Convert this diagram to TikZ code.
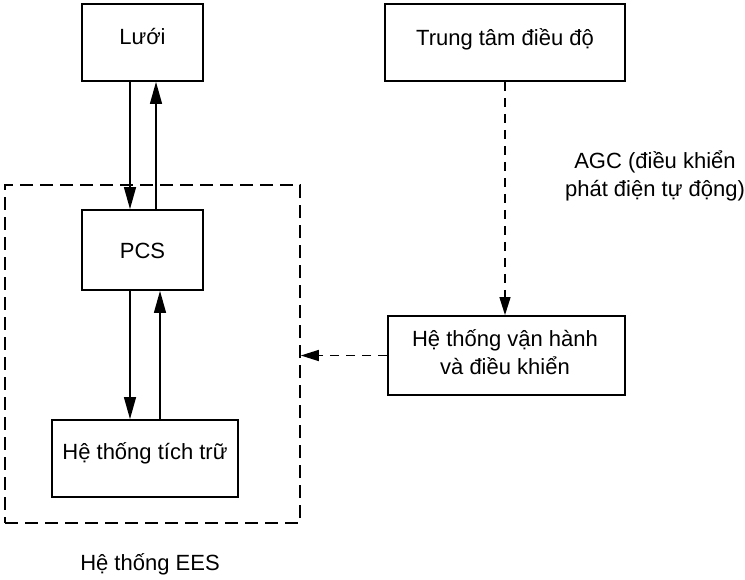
\documentclass[tikz,border=0pt]{standalone}
\usepackage{fontspec}
\setmainfont{Liberation Sans}
\usetikzlibrary{arrows.meta}
\tikzset{
  blockbox/.style={draw, line width=1.8pt, rectangle, inner sep=0pt},
  plaintext/.style={align=center, inner sep=0pt, font=\fontsize{22}{28}\selectfont},
  flow/.style={line width=1.3pt, -{Triangle[length=22pt,width=12pt]}},
  ctrl/.style={line width=1.3pt, dash pattern=on 9pt off 7pt, -{Triangle[length=18pt,width=11pt]}},
  group/.style={draw, line width=1.6pt, dash pattern=on 13pt off 7pt, rectangle, inner sep=0pt}
}
\begin{document}
\begin{tikzpicture}[x=1pt,y=-1pt]
  \useasboundingbox (0,0) rectangle (745,579);

  % EES system group
  \node[group, minimum width=295pt, minimum height=338pt] (ees) at (152.5,354) {};
  \node[plaintext] (eeslabel) at (150,564) {Hệ thống EES};

  % blocks
  \node[blockbox, minimum width=121pt, minimum height=77pt] (grid) at (142.5,42.5) {};
  \node[blockbox, minimum width=121pt, minimum height=80pt] (pcs) at (142.5,250) {};
  \node[blockbox, minimum width=186pt, minimum height=77pt] (store) at (145,458.5) {};
  \node[blockbox, minimum width=240pt, minimum height=77pt] (ctr) at (505,42.5) {};
  \node[blockbox, minimum width=237pt, minimum height=79pt] (ops) at (506.5,355.5) {};

  % block captions
  \node[plaintext] (gridtext) at (142.5,37) {Lưới};
  \node[plaintext] (pcstext) at (142.5,251) {PCS};
  \node[plaintext] (storetext) at (145,453) {Hệ thống tích trữ};
  \node[plaintext] (ctrtext) at (505,39) {Trung tâm điều độ};
  \node[plaintext] (opstext) at (505,352) {Hệ thống vận hành\\và điều khiển};

  \node[plaintext] (agc) at (655,176) {AGC (điều khiển\\phát điện tự động)};

  % power flow
  \draw[flow] ([xshift=-12.5pt]grid.south) -- ([xshift=-12.5pt]pcs.north);
  \draw[flow] ([xshift=13.5pt]pcs.north) -- ([xshift=13.5pt]grid.south);
  \draw[flow] ([xshift=-12.5pt]pcs.south) -- ([xshift=-12.5pt]pcs.south |- store.north);
  \draw[flow] ([xshift=15pt]store.north) -- ([xshift=15pt]store.north |- pcs.south);

  % control signals
  \draw[ctrl] (ctr.south) -- (ctr.south |- ops.north);
  \draw[ctrl] (ops.west) -- (ops.west -| ees.east);
\end{tikzpicture}
\end{document}
